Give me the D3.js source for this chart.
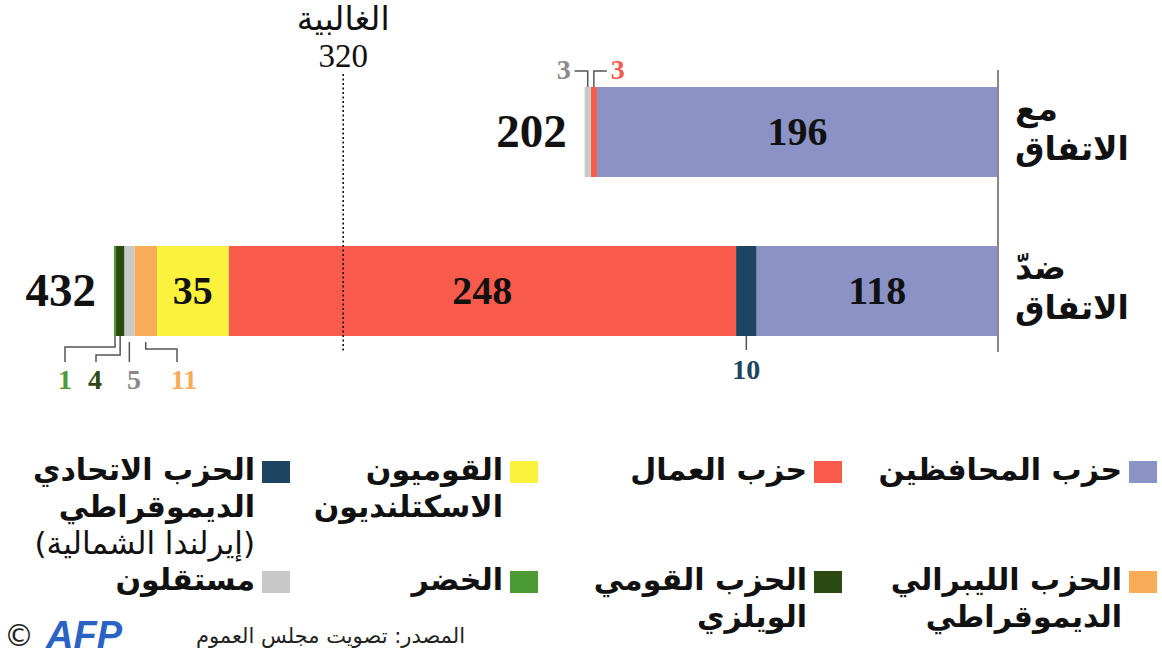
<!DOCTYPE html>
<html>
<head>
<meta charset="utf-8">
<script src="https://cdn.jsdelivr.net/npm/d3@7"></script>
<style>
  body { margin: 0; background: #fff; }
</style>
</head>
<body>
<div id="canvas"></div>
<script>
"use strict"

/* Configuration variables: drawing */
let svgWidth = 1162;
let svgHeight = 665;

/* Data: parties, from the right end of the bar to the left end */
let parties = ["con", "dup", "lab", "snp", "ld", "ind", "pc", "grn"];
let partyNames = {
    con: ["حزب المحافظين"],
    lab: ["حزب العمال"],
    snp: ["القوميون", "الاسكتلنديون"],
    dup: ["الحزب الاتحادي", "الديموقراطي", "(إيرلندا الشمالية)"],
    ld: ["الحزب الليبرالي", "الديموقراطي"],
    pc: ["الحزب القومي", "الويلزي"],
    grn: ["الخضر"],
    ind: ["مستقلون"]
};
let partyColors = {
    con: "#8b93c6", dup: "#1d4461", lab: "#f85b4c", snp: "#faf23c",
    ld: "#f9ac58", ind: "#c8c8c8", pc: "#2b4a12", grn: "#4c9a33"
};

/* votes */
let votes = ["مع الاتفاق", "ضدّ الاتفاق"];
let forDeal = [196, 0, 3, 0, 0, 3, 0, 0];
let againstDeal = [118, 10, 248, 35, 11, 5, 4, 1];
let majority = 320;

/* legend order (row by row, right to left) */
let legendOrder = ["con", "lab", "snp", "dup", "ld", "pc", "grn", "ind"];

let rows = [forDeal, againstDeal].map(function(vals, i) {
    let r = { vote: votes[i] };
    parties.forEach(function(p, j) { r[p] = vals[j]; });
    return r;
});

let svg = d3.select("#canvas")
    .append("svg")
    .attr("width", svgWidth)
    .attr("height", svgHeight)
    .style("font-family", "'DejaVu Sans', sans-serif");

/* Scales */
let xScale = d3.scaleLinear()
    .domain([0, d3.sum(againstDeal)])
    .range([998, 114]);

let yScale = d3.scaleBand()
    .domain(votes)
    .range([87, 336])
    .paddingInner(0.434)
    .paddingOuter(0);

let stacked = d3.stack().keys(parties)(rows);

/* bars */
let groups = svg.selectAll("g.series")
    .data(stacked)
    .join("g")
    .attr("class", "series")
    .attr("fill", function(d) { return partyColors[d.key]; });

groups.selectAll("rect")
    .data(function(d) { return d; })
    .join("rect")
    .attr("x", function(d) { return xScale(d[1]); })
    .attr("width", function(d) { return xScale(d[0]) - xScale(d[1]); })
    .attr("y", function(d) { return yScale(d.data.vote); })
    .attr("height", yScale.bandwidth());

/* value labels inside big segments */
stacked.forEach(function(s) {
    s.forEach(function(d) {
        if (d[1] - d[0] < 30) return;
        svg.append("text")
            .attr("x", (xScale(d[0]) + xScale(d[1])) / 2)
            .attr("y", yScale(d.data.vote) + yScale.bandwidth() / 2 + 13)
            .attr("text-anchor", "middle")
            .style("font-family", "'Liberation Serif', serif")
            .style("font-weight", "bold")
            .style("font-size", "40px")
            .attr("fill", "#111")
            .text(d[1] - d[0]);
    });
});

/* totals */
rows.forEach(function(r, i) {
    let total = d3.sum(parties, function(p) { return r[p]; });
    svg.append("text")
        .attr("x", xScale(total) - 18)
        .attr("y", yScale(r.vote) + yScale.bandwidth() / 2 + 15)
        .attr("text-anchor", "end")
        .style("font-family", "'Liberation Serif', serif")
        .style("font-weight", "bold")
        .style("font-size", "47px")
        .attr("fill", "#111")
        .text(total);
});

/* zero line */
svg.append("line")
    .attr("x1", xScale(0)).attr("x2", xScale(0))
    .attr("y1", 70).attr("y2", 352)
    .attr("stroke", "#888")
    .attr("stroke-width", 2);

/* majority line */
svg.append("line")
    .attr("x1", xScale(majority)).attr("x2", xScale(majority))
    .attr("y1", 74).attr("y2", 352)
    .attr("stroke", "#111")
    .attr("stroke-width", 1.6)
    .attr("stroke-dasharray", "2,2.5");

svg.append("text")
    .attr("x", xScale(majority))
    .attr("y", 30)
    .attr("text-anchor", "middle")
    .style("font-size", "33px")
    .attr("fill", "#111")
    .text("الغالبية");

svg.append("text")
    .attr("x", xScale(majority))
    .attr("y", 67)
    .attr("text-anchor", "middle")
    .style("font-family", "'Liberation Serif', serif")
    .style("font-size", "33px")
    .attr("fill", "#111")
    .text(majority);

/* vote labels on the right (left-aligned, as in the original) */
votes.forEach(function(v) {
    let words = v.split(" ");
    words.forEach(function(w, k) {
        svg.append("text")
            .attr("x", 1015)
            .attr("y", yScale(v) + 33 + k * 40)
            .attr("direction", "rtl")
            .attr("text-anchor", "end")
            .style("font-weight", "bold")
            .style("font-size", "33px")
            .attr("fill", "#111")
            .text(w);
    });
});

/* small segment callouts */
function segMid(row, key) {
    let s = stacked.find(function(d) { return d.key === key; })[row];
    return (xScale(s[0]) + xScale(s[1])) / 2;
}
function path(points) {
    svg.append("path")
        .attr("d", d3.line()(points))
        .attr("fill", "none")
        .attr("stroke", "#555")
        .attr("stroke-width", 1.5);
}
function callout(x, y, anchor, key, value) {
    svg.append("text")
        .attr("x", x)
        .attr("y", y)
        .attr("text-anchor", anchor)
        .style("font-family", "'Liberation Serif', serif")
        .style("font-weight", "bold")
        .style("font-size", "28px")
        .attr("fill", key === "ind" ? "#8a8a8a" : partyColors[key])
        .text(value);
}

/* for the deal: independents and labour */
let topFor = yScale(votes[0]);
let xi = segMid(0, "ind"), xl = segMid(0, "lab");
path([[xi, topFor], [xi, 71], [xi - 13, 71]]);
path([[xl, topFor], [xl, 71], [xl + 13, 71]]);
callout(xi - 17, 79, "end", "ind", forDeal[5]);
callout(xl + 17, 79, "start", "lab", forDeal[2]);

/* against the deal: small parties */
let botA = yScale(votes[1]) + yScale.bandwidth();
let xg = segMid(1, "grn"), xp = segMid(1, "pc"), xn = segMid(1, "ind"), xd = segMid(1, "ld");
path([[xg, botA], [xg, 347], [65, 347], [65, 362]]);
path([[xp, botA], [xp, 355], [96, 355], [96, 362]]);
path([[xn, botA + 6], [xn, 362]]);
path([[xd, botA + 6], [xd, 349], [177, 349], [177, 362]]);
callout(65, 389, "middle", "grn", againstDeal[7]);
callout(95, 389, "middle", "pc", againstDeal[6]);
callout(134, 389, "middle", "ind", againstDeal[5]);
callout(184, 389, "middle", "ld", againstDeal[4]);

let xdup = segMid(1, "dup");
path([[xdup, botA], [xdup, 350]]);
callout(xdup, 379, "middle", "dup", againstDeal[1]);

/* Legend */
let legendX = [1129, 814, 510, 262];
let legendY = [461, 571];
legendOrder.forEach(function(p, i) {
    let lx = legendX[i % 4];
    let ly = legendY[Math.floor(i / 4)];
    svg.append("rect")
        .attr("x", lx)
        .attr("y", ly)
        .attr("width", 28)
        .attr("height", 22)
        .attr("fill", partyColors[p]);
    partyNames[p].forEach(function(line, k) {
        let paren = line.charAt(0) === "(";
        svg.append("text")
            .attr("x", lx - 7)
            .attr("y", ly + 19 + k * 37)
            .attr("direction", "rtl")
            .attr("text-anchor", "start")
            .style("font-weight", paren ? "normal" : "bold")
            .style("font-size", paren ? "31px" : "30px")
            .attr("fill", "#111")
            .text(line);
    });
});

/* source and credit */
svg.append("text")
    .attr("x", 465)
    .attr("y", 643)
    .attr("direction", "rtl")
    .attr("text-anchor", "start")
    .style("font-size", "21px")
    .attr("fill", "#222")
    .text("المصدر: تصويت مجلس العموم");

svg.append("text")
    .attr("x", 46)
    .attr("y", 648)
    .style("font-family", "'Liberation Sans', sans-serif")
    .style("font-weight", "bold")
    .style("font-style", "italic")
    .style("font-size", "38px")
    .attr("fill", "#2a63c4")
    .text("AFP");

svg.append("text")
    .attr("x", 4)
    .attr("y", 646)
    .style("font-size", "30px")
    .attr("fill", "#222")
    .text("©");
</script>
</body>
</html>
